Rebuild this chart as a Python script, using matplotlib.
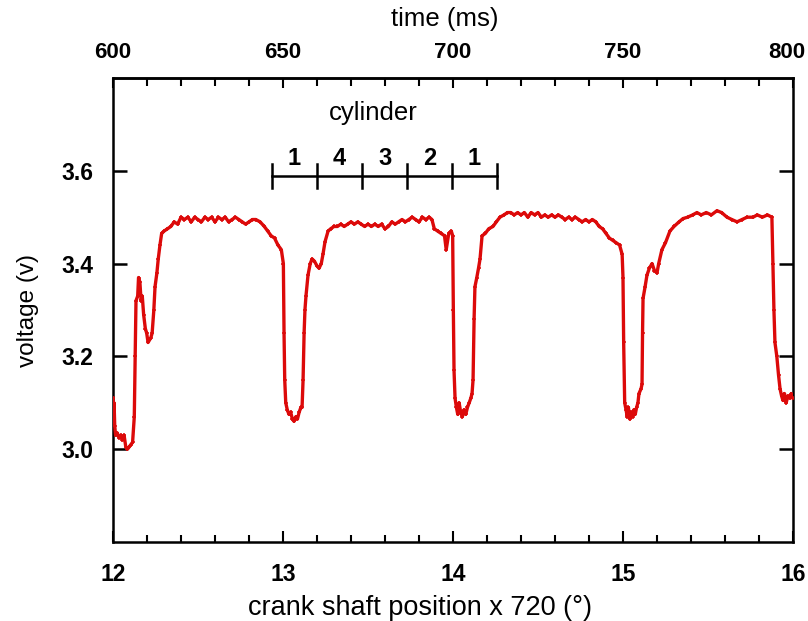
import numpy as np
import matplotlib.pyplot as plt
from matplotlib.ticker import MultipleLocator, FixedLocator, NullFormatter
from matplotlib.transforms import blended_transform_factory

plt.rcParams['font.family'] = ['Liberation Sans', 'DejaVu Sans']

crank = [
    12.000, 12.003, 12.006, 12.010, 12.015, 12.025, 12.035, 12.045, 12.055, 12.065,
    12.075, 12.085, 12.095, 12.105, 12.115, 12.125, 12.130, 12.135, 12.145, 12.150,
    12.158, 12.165, 12.172, 12.180, 12.190, 12.198, 12.206, 12.214, 12.222, 12.230,
    12.240, 12.247, 12.258, 12.266, 12.276, 12.286, 12.30, 12.32, 12.34, 12.36,
    12.38, 12.40, 12.42, 12.44, 12.46, 12.48, 12.50, 12.52, 12.54, 12.56,
    12.58, 12.60, 12.62, 12.64, 12.66, 12.68, 12.70, 12.72, 12.74, 12.76,
    12.78, 12.80, 12.82, 12.84, 12.865, 12.89, 12.91, 12.93, 12.95, 12.97,
    12.99, 13.002, 13.006, 13.010, 13.016, 13.025, 13.035, 13.045, 13.055, 13.065,
    13.075, 13.085, 13.095, 13.105, 13.112, 13.118, 13.124, 13.129, 13.135, 13.147,
    13.160, 13.171, 13.185, 13.200, 13.212, 13.225, 13.235, 13.247, 13.265, 13.28,
    13.30, 13.32, 13.34, 13.36, 13.38, 13.40, 13.42, 13.44, 13.46, 13.48,
    13.50, 13.52, 13.54, 13.56, 13.58, 13.60, 13.62, 13.64, 13.66, 13.68,
    13.70, 13.72, 13.74, 13.76, 13.78, 13.80, 13.82, 13.84, 13.86, 13.876,
    13.89, 13.91, 13.93, 13.95, 13.96, 13.975, 13.99, 13.998, 14.002, 14.006,
    14.012, 14.020, 14.028, 14.036, 14.045, 14.055, 14.065, 14.075, 14.085, 14.095,
    14.105, 14.112, 14.118, 14.124, 14.129, 14.14, 14.15, 14.159, 14.171, 14.19,
    14.21, 14.235, 14.255, 14.276, 14.30, 14.32, 14.34, 14.36, 14.38, 14.40,
    14.42, 14.44, 14.46, 14.48, 14.50, 14.52, 14.54, 14.56, 14.58, 14.60,
    14.62, 14.64, 14.66, 14.68, 14.70, 14.72, 14.74, 14.76, 14.78, 14.80,
    14.82, 14.84, 14.86, 14.88, 14.90, 14.92, 14.94, 14.96, 14.98, 14.995,
    15.000, 15.004, 15.010, 15.018, 15.025, 15.032, 15.040, 15.048, 15.056, 15.064,
    15.072, 15.080, 15.088, 15.094, 15.106, 15.112, 15.115, 15.118, 15.13, 15.141,
    15.155, 15.171, 15.185, 15.20, 15.21, 15.229, 15.25, 15.276, 15.30, 15.33,
    15.353, 15.38, 15.41, 15.435, 15.46, 15.49, 15.52, 15.553, 15.58, 15.612,
    15.64, 15.671, 15.70, 15.73, 15.765, 15.79, 15.82, 15.85, 15.876, 15.882,
    15.888, 15.894, 15.905, 15.915, 15.924, 15.933, 15.941, 15.95, 15.96, 15.97,
    15.982, 15.99, 16.0,
]
voltage = [
    3.11, 3.08, 3.10, 3.05, 3.03, 3.035, 3.025, 3.03, 3.02, 3.03,
    3.005, 3.00, 3.005, 3.01, 3.015, 3.07, 3.20, 3.32, 3.33, 3.37,
    3.36, 3.32, 3.33, 3.29, 3.26, 3.25, 3.23, 3.235, 3.24, 3.25,
    3.30, 3.35, 3.38, 3.41, 3.44, 3.465, 3.47, 3.475, 3.48, 3.49,
    3.485, 3.50, 3.495, 3.50, 3.49, 3.50, 3.495, 3.49, 3.50, 3.495,
    3.50, 3.49, 3.50, 3.495, 3.50, 3.49, 3.495, 3.50, 3.495, 3.49,
    3.485, 3.49, 3.495, 3.495, 3.49, 3.48, 3.47, 3.46, 3.455, 3.44,
    3.43, 3.40, 3.25, 3.15, 3.10, 3.085, 3.075, 3.08, 3.065, 3.06,
    3.07, 3.065, 3.08, 3.09, 3.09, 3.15, 3.25, 3.30, 3.33, 3.375,
    3.40, 3.41, 3.405, 3.395, 3.39, 3.40, 3.42, 3.447, 3.47, 3.475,
    3.48, 3.48, 3.485, 3.48, 3.485, 3.49, 3.485, 3.49, 3.485, 3.48,
    3.485, 3.48, 3.485, 3.48, 3.485, 3.475, 3.48, 3.49, 3.485, 3.49,
    3.495, 3.49, 3.495, 3.50, 3.495, 3.49, 3.50, 3.495, 3.50, 3.495,
    3.475, 3.47, 3.465, 3.46, 3.43, 3.465, 3.47, 3.46, 3.30, 3.17,
    3.11, 3.09, 3.075, 3.10, 3.08, 3.07, 3.085, 3.075, 3.09, 3.10,
    3.11, 3.12, 3.15, 3.28, 3.35, 3.37, 3.39, 3.41, 3.46, 3.465,
    3.475, 3.48, 3.49, 3.50, 3.505, 3.51, 3.51, 3.505, 3.51, 3.505,
    3.51, 3.50, 3.51, 3.505, 3.51, 3.50, 3.505, 3.50, 3.505, 3.50,
    3.505, 3.50, 3.495, 3.50, 3.495, 3.50, 3.495, 3.49, 3.495, 3.49,
    3.495, 3.49, 3.48, 3.475, 3.465, 3.455, 3.45, 3.445, 3.44, 3.42,
    3.37, 3.23, 3.10, 3.085, 3.07, 3.09, 3.065, 3.08, 3.07, 3.085,
    3.075, 3.09, 3.10, 3.12, 3.13, 3.14, 3.25, 3.325, 3.35, 3.375,
    3.39, 3.40, 3.385, 3.38, 3.40, 3.43, 3.445, 3.47, 3.48, 3.49,
    3.497, 3.50, 3.505, 3.51, 3.505, 3.51, 3.505, 3.514, 3.51, 3.50,
    3.495, 3.49, 3.495, 3.50, 3.50, 3.505, 3.50, 3.505, 3.50, 3.40,
    3.30, 3.23, 3.20, 3.16, 3.13, 3.115, 3.105, 3.12, 3.10, 3.115,
    3.11, 3.12, 3.11,
]

time_ticks = [600, 650, 700, 750, 800]

# firing order bracket
cyl_edges = [12.935, 13.2, 13.465, 13.73, 13.994, 14.259]
cyl_labels = ['1', '4', '3', '2', '1']
cyl_y = 3.589

red = '#dc0a0a'


def ms_to_crank(t):
    return 12 + (np.asarray(t, dtype=float) - 600) / 50


def crank_to_ms(x):
    return 600 + (np.asarray(x, dtype=float) - 12) * 50


fig = plt.figure(figsize=(8.08, 6.21), dpi=100)
ax = fig.add_axes([0.1399, 0.1272, 0.8415, 0.7472])

ax.plot(crank, voltage, color=red, linewidth=2.4, marker='+', markersize=3.5,
        markeredgewidth=1.1, zorder=3)

ax.set_xlim(12, 16)
ax.set_ylim(2.8, 3.8)
ax.xaxis.set_major_locator(MultipleLocator(1))
ax.xaxis.set_minor_locator(MultipleLocator(0.2))
ax.set_yticks([3.0, 3.2, 3.4, 3.6])
ax.yaxis.set_major_formatter(plt.FormatStrFormatter('%.1f'))

for s in ax.spines.values():
    s.set_linewidth(1.8)

ax.tick_params(axis='x', which='major', direction='in', length=8, width=1.5,
               labelsize=16.5, pad=15, top=False)
ax.tick_params(axis='x', which='minor', direction='in', length=5, width=1.5, top=False)
ax.tick_params(axis='y', which='major', direction='in', length=10, width=1.8,
               labelsize=16.5, pad=14, right=True)
for lab in ax.get_xticklabels() + ax.get_yticklabels():
    lab.set_fontweight('bold')

ax.set_xlabel('crank shaft position x 720 (°)', fontsize=19.5, labelpad=5)
ax.xaxis.set_label_coords(0.452, -0.115)
ax.set_ylabel('voltage (v)', fontsize=17.5, labelpad=16)

# top axis in milliseconds (ticks from the axis, labels placed by hand so 800 fits)
top = ax.secondary_xaxis('top', functions=(crank_to_ms, ms_to_crank))
top.xaxis.set_major_locator(FixedLocator(time_ticks))
top.xaxis.set_minor_locator(MultipleLocator(10))
top.xaxis.set_major_formatter(NullFormatter())
top.tick_params(which='major', direction='in', length=7, width=1.5)
top.tick_params(which='minor', direction='in', length=6, width=1.5)
top.spines['top'].set_linewidth(1.8)

trans = blended_transform_factory(ax.transData, ax.transAxes)
for i, t in enumerate(time_ticks):
    last = i == len(time_ticks) - 1
    ax.text(ms_to_crank(t) - (0.035 if last else 0), 1.056, str(t), transform=trans,
            ha='center', va='center', fontsize=16, fontweight='bold')

fig.text(445 / 808, 1 - 19 / 621, 'time (ms)', ha='center', va='center', fontsize=18.5)

# cylinder bracket
ax.plot([cyl_edges[0], cyl_edges[-1]], [cyl_y, cyl_y], color='black', linewidth=1.8)
for e in cyl_edges:
    ax.plot([e, e], [cyl_y - 0.025, cyl_y + 0.025], color='black', linewidth=1.8)
for i, lab in enumerate(cyl_labels):
    ax.text((cyl_edges[i] + cyl_edges[i + 1]) / 2, cyl_y + 0.012, lab,
            ha='center', va='bottom', fontsize=17, fontweight='bold')
ax.text(13.53, 3.725, 'cylinder', ha='center', va='center', fontsize=18.5)

plt.savefig('out.png', dpi=100)
